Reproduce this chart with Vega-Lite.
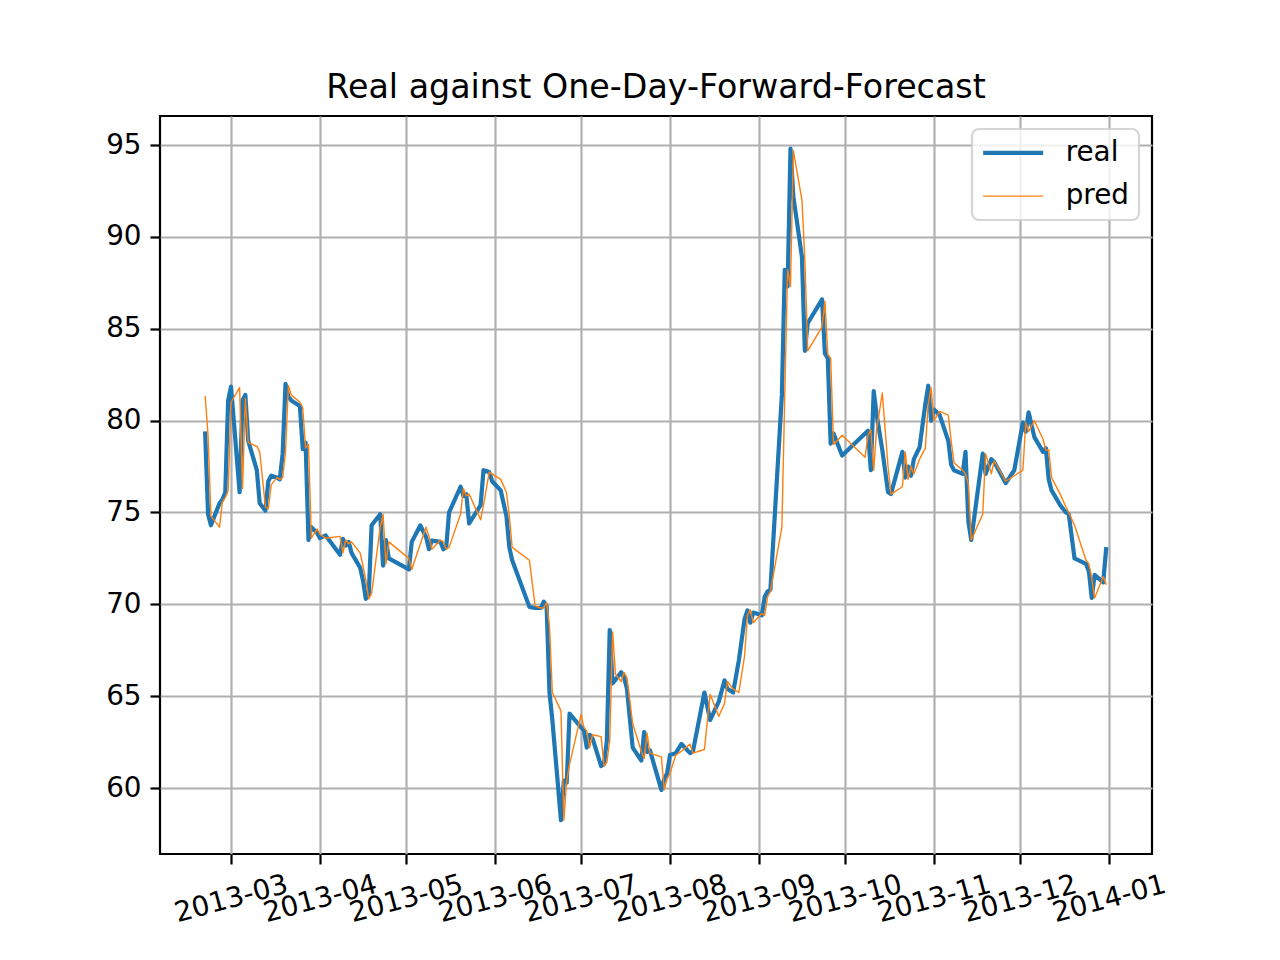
{
  "$schema": "https://vega.github.io/schema/vega-lite/v6.json",
  "width": 992,
  "height": 738,
  "autosize": "none",
  "padding": {"left": 160, "top": 116, "right": 128, "bottom": 106},
  "background": "white",
  "title": {"text": "Real against One-Day-Forward-Forecast", "fontSize": 33.3, "font": "DejaVu Sans", "fontWeight": "normal", "color": "black", "anchor": "middle", "offset": 11},
  "data": {"values": [
    {"date":"2013-02-20","real":79.3,"pred":81.3},
    {"date":"2013-02-21","real":74.9,"pred":79.2},
    {"date":"2013-02-22","real":74.3,"pred":74.8},
    {"date":"2013-02-25","real":75.5,"pred":74.2},
    {"date":"2013-02-26","real":75.7,"pred":75.6},
    {"date":"2013-02-27","real":76.1,"pred":75.8},
    {"date":"2013-02-28","real":81.1,"pred":76.2},
    {"date":"2013-03-01","real":81.85,"pred":81.0},
    {"date":"2013-03-04","real":76.1,"pred":81.8},
    {"date":"2013-03-05","real":81.1,"pred":76.3},
    {"date":"2013-03-06","real":81.4,"pred":81.2},
    {"date":"2013-03-07","real":78.9,"pred":78.8},
    {"date":"2013-03-10","real":77.3,"pred":78.6},
    {"date":"2013-03-11","real":75.5,"pred":78.3},
    {"date":"2013-03-13","real":75.1,"pred":75.3},
    {"date":"2013-03-14","real":76.7,"pred":75.2},
    {"date":"2013-03-15","real":77.0,"pred":76.5},
    {"date":"2013-03-17","real":76.9,"pred":76.9},
    {"date":"2013-03-18","real":76.8,"pred":76.8},
    {"date":"2013-03-19","real":78.2,"pred":76.9},
    {"date":"2013-03-20","real":82.0,"pred":78.3},
    {"date":"2013-03-21","real":81.3,"pred":81.9},
    {"date":"2013-03-22","real":81.1,"pred":81.4},
    {"date":"2013-03-25","real":80.8,"pred":81.0},
    {"date":"2013-03-26","real":78.45,"pred":80.7},
    {"date":"2013-03-27","real":78.8,"pred":78.5},
    {"date":"2013-03-28","real":73.5,"pred":78.7},
    {"date":"2013-03-29","real":74.2,"pred":73.6},
    {"date":"2013-03-31","real":73.9,"pred":74.1},
    {"date":"2013-04-01","real":73.6,"pred":73.8},
    {"date":"2013-04-03","real":73.75,"pred":73.6},
    {"date":"2013-04-08","real":72.7,"pred":73.7},
    {"date":"2013-04-09","real":73.56,"pred":72.8},
    {"date":"2013-04-10","real":73.2,"pred":73.5},
    {"date":"2013-04-11","real":73.4,"pred":73.3},
    {"date":"2013-04-12","real":72.8,"pred":73.4},
    {"date":"2013-04-15","real":72.0,"pred":72.8},
    {"date":"2013-04-16","real":71.3,"pred":72.1},
    {"date":"2013-04-17","real":70.3,"pred":71.3},
    {"date":"2013-04-18","real":70.5,"pred":70.3},
    {"date":"2013-04-19","real":74.3,"pred":70.6},
    {"date":"2013-04-22","real":74.9,"pred":74.2},
    {"date":"2013-04-23","real":72.1,"pred":74.9},
    {"date":"2013-04-24","real":73.5,"pred":72.2},
    {"date":"2013-04-25","real":72.5,"pred":73.4},
    {"date":"2013-05-02","real":71.9,"pred":72.5},
    {"date":"2013-05-03","real":73.4,"pred":71.9},
    {"date":"2013-05-06","real":74.3,"pred":73.3},
    {"date":"2013-05-08","real":73.65,"pred":74.2},
    {"date":"2013-05-09","real":73.0,"pred":73.7},
    {"date":"2013-05-10","real":73.47,"pred":73.0},
    {"date":"2013-05-13","real":73.4,"pred":73.5},
    {"date":"2013-05-14","real":73.0,"pred":73.4},
    {"date":"2013-05-15","real":73.1,"pred":73.0},
    {"date":"2013-05-16","real":75.0,"pred":73.1},
    {"date":"2013-05-20","real":76.4,"pred":74.9},
    {"date":"2013-05-21","real":75.9,"pred":76.3},
    {"date":"2013-05-22","real":76.0,"pred":75.9},
    {"date":"2013-05-23","real":74.4,"pred":76.0},
    {"date":"2013-05-27","real":75.4,"pred":74.6},
    {"date":"2013-05-28","real":77.3,"pred":75.4},
    {"date":"2013-05-30","real":77.2,"pred":77.2},
    {"date":"2013-05-31","real":76.7,"pred":77.1},
    {"date":"2013-06-03","real":76.2,"pred":76.8},
    {"date":"2013-06-05","real":74.8,"pred":76.1},
    {"date":"2013-06-06","real":73.1,"pred":74.8},
    {"date":"2013-06-07","real":72.4,"pred":73.1},
    {"date":"2013-06-13","real":69.86,"pred":72.4},
    {"date":"2013-06-15","real":69.8,"pred":69.9},
    {"date":"2013-06-17","real":69.8,"pred":69.8},
    {"date":"2013-06-18","real":70.15,"pred":69.8},
    {"date":"2013-06-19","real":69.9,"pred":70.1},
    {"date":"2013-06-20","real":65.2,"pred":68.8},
    {"date":"2013-06-21","real":63.7,"pred":65.2},
    {"date":"2013-06-24","real":58.25,"pred":64.2},
    {"date":"2013-06-25","real":60.4,"pred":58.25},
    {"date":"2013-06-26","real":60.3,"pred":60.4},
    {"date":"2013-06-27","real":64.05,"pred":61.3},
    {"date":"2013-07-01","real":63.3,"pred":64.0},
    {"date":"2013-07-02","real":63.15,"pred":63.3},
    {"date":"2013-07-03","real":62.2,"pred":63.1},
    {"date":"2013-07-04","real":62.9,"pred":62.2},
    {"date":"2013-07-05","real":62.7,"pred":62.9},
    {"date":"2013-07-08","real":61.2,"pred":62.8},
    {"date":"2013-07-09","real":61.3,"pred":61.2},
    {"date":"2013-07-10","real":62.6,"pred":61.4},
    {"date":"2013-07-11","real":68.6,"pred":62.6},
    {"date":"2013-07-12","real":65.7,"pred":68.5},
    {"date":"2013-07-13","real":65.9,"pred":66.2},
    {"date":"2013-07-15","real":66.3,"pred":65.8},
    {"date":"2013-07-16","real":66.0,"pred":66.3},
    {"date":"2013-07-17","real":65.4,"pred":66.0},
    {"date":"2013-07-19","real":62.2,"pred":63.5},
    {"date":"2013-07-22","real":61.5,"pred":62.0},
    {"date":"2013-07-23","real":63.05,"pred":61.6},
    {"date":"2013-07-24","real":61.96,"pred":63.0},
    {"date":"2013-07-25","real":62.05,"pred":61.9},
    {"date":"2013-07-29","real":59.9,"pred":61.7},
    {"date":"2013-07-30","real":60.5,"pred":59.9},
    {"date":"2013-07-31","real":60.8,"pred":60.5},
    {"date":"2013-08-01","real":61.8,"pred":60.8},
    {"date":"2013-08-03","real":61.9,"pred":61.8},
    {"date":"2013-08-05","real":62.4,"pred":62.0},
    {"date":"2013-08-08","real":61.9,"pred":62.4},
    {"date":"2013-08-09","real":62.0,"pred":61.9},
    {"date":"2013-08-13","real":65.2,"pred":62.1},
    {"date":"2013-08-15","real":63.7,"pred":65.1},
    {"date":"2013-08-18","real":64.7,"pred":63.9},
    {"date":"2013-08-20","real":65.86,"pred":64.6},
    {"date":"2013-08-21","real":65.4,"pred":65.8},
    {"date":"2013-08-23","real":65.2,"pred":65.4},
    {"date":"2013-08-25","real":66.95,"pred":65.2},
    {"date":"2013-08-27","real":69.2,"pred":67.2},
    {"date":"2013-08-28","real":69.67,"pred":69.4},
    {"date":"2013-08-29","real":69.0,"pred":69.7},
    {"date":"2013-08-30","real":69.55,"pred":69.0},
    {"date":"2013-09-02","real":69.4,"pred":69.5},
    {"date":"2013-09-03","real":70.4,"pred":69.4},
    {"date":"2013-09-04","real":70.7,"pred":70.4},
    {"date":"2013-09-05","real":70.8,"pred":70.7},
    {"date":"2013-09-09","real":81.4,"pred":74.2},
    {"date":"2013-09-10","real":88.2,"pred":81.4},
    {"date":"2013-09-11","real":87.3,"pred":88.2},
    {"date":"2013-09-12","real":94.8,"pred":87.3},
    {"date":"2013-09-13","real":92.2,"pred":94.7},
    {"date":"2013-09-16","real":88.9,"pred":92.0},
    {"date":"2013-09-17","real":83.8,"pred":88.8},
    {"date":"2013-09-18","real":85.3,"pred":83.8},
    {"date":"2013-09-23","real":86.6,"pred":85.1},
    {"date":"2013-09-24","real":83.65,"pred":86.5},
    {"date":"2013-09-25","real":83.4,"pred":83.6},
    {"date":"2013-09-26","real":78.75,"pred":83.4},
    {"date":"2013-09-27","real":79.3,"pred":78.7},
    {"date":"2013-09-30","real":78.1,"pred":79.2},
    {"date":"2013-10-08","real":79.3,"pred":78.0},
    {"date":"2013-10-09","real":79.45,"pred":79.2},
    {"date":"2013-10-10","real":77.3,"pred":79.5},
    {"date":"2013-10-11","real":81.6,"pred":77.3},
    {"date":"2013-10-12","real":80.36,"pred":79.5},
    {"date":"2013-10-14","real":78.4,"pred":81.5},
    {"date":"2013-10-16","real":76.1,"pred":77.5},
    {"date":"2013-10-17","real":76.0,"pred":76.0},
    {"date":"2013-10-21","real":78.3,"pred":76.4},
    {"date":"2013-10-22","real":76.9,"pred":78.3},
    {"date":"2013-10-23","real":77.5,"pred":76.8},
    {"date":"2013-10-24","real":77.0,"pred":77.5},
    {"date":"2013-10-25","real":77.9,"pred":77.1},
    {"date":"2013-10-27","real":78.55,"pred":77.9},
    {"date":"2013-10-29","real":80.9,"pred":78.5},
    {"date":"2013-10-30","real":81.9,"pred":80.9},
    {"date":"2013-10-31","real":80.0,"pred":81.8},
    {"date":"2013-11-01","real":80.6,"pred":80.0},
    {"date":"2013-11-03","real":80.3,"pred":80.5},
    {"date":"2013-11-06","real":78.9,"pred":80.3},
    {"date":"2013-11-07","real":77.6,"pred":78.9},
    {"date":"2013-11-08","real":77.3,"pred":77.7},
    {"date":"2013-11-11","real":77.1,"pred":77.3},
    {"date":"2013-11-12","real":78.3,"pred":77.1},
    {"date":"2013-11-13","real":74.5,"pred":76.5},
    {"date":"2013-11-14","real":73.5,"pred":73.5},
    {"date":"2013-11-18","real":78.2,"pred":74.9},
    {"date":"2013-11-19","real":77.1,"pred":78.2},
    {"date":"2013-11-21","real":77.9,"pred":77.1},
    {"date":"2013-11-22","real":77.75,"pred":77.8},
    {"date":"2013-11-26","real":76.6,"pred":76.7},
    {"date":"2013-11-29","real":77.3,"pred":77.0},
    {"date":"2013-12-02","real":79.9,"pred":77.3},
    {"date":"2013-12-03","real":79.4,"pred":79.9},
    {"date":"2013-12-04","real":80.45,"pred":79.4},
    {"date":"2013-12-06","real":79.1,"pred":80.0},
    {"date":"2013-12-09","real":78.3,"pred":79.0},
    {"date":"2013-12-10","real":78.5,"pred":78.4},
    {"date":"2013-12-11","real":76.8,"pred":78.4},
    {"date":"2013-12-12","real":76.2,"pred":76.9},
    {"date":"2013-12-15","real":75.4,"pred":76.0},
    {"date":"2013-12-17","real":75.0,"pred":75.3},
    {"date":"2013-12-18","real":74.9,"pred":75.0},
    {"date":"2013-12-20","real":72.5,"pred":74.3},
    {"date":"2013-12-24","real":72.2,"pred":72.4},
    {"date":"2013-12-25","real":71.8,"pred":72.2},
    {"date":"2013-12-26","real":70.35,"pred":71.4},
    {"date":"2013-12-27","real":71.6,"pred":70.35},
    {"date":"2013-12-30","real":71.2,"pred":71.5},
    {"date":"2013-12-31","real":73.0,"pred":71.1}
  ]},
  "transform": [{"fold": ["real", "pred"], "as": ["series", "value"]}],
  "mark": {"type": "line", "strokeCap": "square", "strokeJoin": "round"},
  "encoding": {
    "x": {
      "field": "date", "type": "temporal",
      "scale": {"type": "utc", "nice": false, "domain": [{"year": 2013, "month": 2, "date": 4, "hours": 6, "utc": true}, {"year": 2014, "month": 1, "date": 16, "utc": true}]},
      "axis": {
        "title": null, "format": "%Y-%m",
        "values": [
          {"year": 2013, "month": 3, "date": 1, "utc": true},
          {"year": 2013, "month": 4, "date": 1, "utc": true},
          {"year": 2013, "month": 5, "date": 1, "utc": true},
          {"year": 2013, "month": 6, "date": 1, "utc": true},
          {"year": 2013, "month": 7, "date": 1, "utc": true},
          {"year": 2013, "month": 8, "date": 1, "utc": true},
          {"year": 2013, "month": 9, "date": 1, "utc": true},
          {"year": 2013, "month": 10, "date": 1, "utc": true},
          {"year": 2013, "month": 11, "date": 1, "utc": true},
          {"year": 2013, "month": 12, "date": 1, "utc": true},
          {"year": 2014, "month": 1, "date": 1, "utc": true}
        ],
        "labelAngle": -15, "labelAlign": "center", "labelBaseline": "middle", "labelPadding": 35,
        "labelFlush": false, "labelOverlap": false, "labelBound": false
      }
    },
    "y": {
      "field": "value", "type": "quantitative",
      "scale": {"domain": [56.41, 96.58], "nice": false, "zero": false},
      "axis": {"title": null, "values": [60, 65, 70, 75, 80, 85, 90, 95], "labelPadding": 9, "labelFlush": false, "labelOverlap": false}
    },
    "color": {
      "field": "series", "type": "nominal",
      "scale": {"domain": ["real", "pred"], "range": ["#1f77b4", "#ff7f0e"]},
      "legend": {"title": null, "orient": "top-right", "offset": 13, "symbolType": "M-3,0L3,0", "symbolSize": 400, "symbolOffset": 17.25, "labelFontSize": 27.8, "labelFont": "DejaVu Sans", "labelColor": "black", "labelOffset": 38.65, "rowPadding": 14.2, "padding": 10, "fillColor": "rgba(255,255,255,0.8)", "strokeColor": "rgba(204,204,204,0.8)", "cornerRadius": 7,
        "encode": {"legend": {"update": {"strokeWidth": {"value": 2.2}}}}}
    },
    "strokeWidth": {
      "field": "series", "type": "ordinal",
      "scale": {"domain": ["real", "pred"], "range": [4.2, 1.4]},
      "legend": {"title": null, "orient": "top-right", "offset": 13, "symbolType": "M-3,0L3,0", "symbolSize": 400, "symbolOffset": 17.25, "labelFontSize": 27.8, "labelFont": "DejaVu Sans", "labelColor": "black", "labelOffset": 38.65, "rowPadding": 14.2, "padding": 10, "fillColor": "rgba(255,255,255,0.8)", "strokeColor": "rgba(204,204,204,0.8)", "cornerRadius": 7,
        "encode": {"legend": {"update": {"strokeWidth": {"value": 2.2}}}}}
    }
  },
  "config": {
    "view": {"stroke": "black", "strokeWidth": 2.2},
    "axis": {
      "domain": false,
      "grid": true, "gridColor": "#b0b0b0", "gridWidth": 2.2, "gridOpacity": 1,
      "ticks": true, "tickColor": "black", "tickSize": 10, "tickWidth": 2.2,
      "labelFont": "DejaVu Sans", "labelFontSize": 27.8, "labelColor": "black"
    }
  }
}
